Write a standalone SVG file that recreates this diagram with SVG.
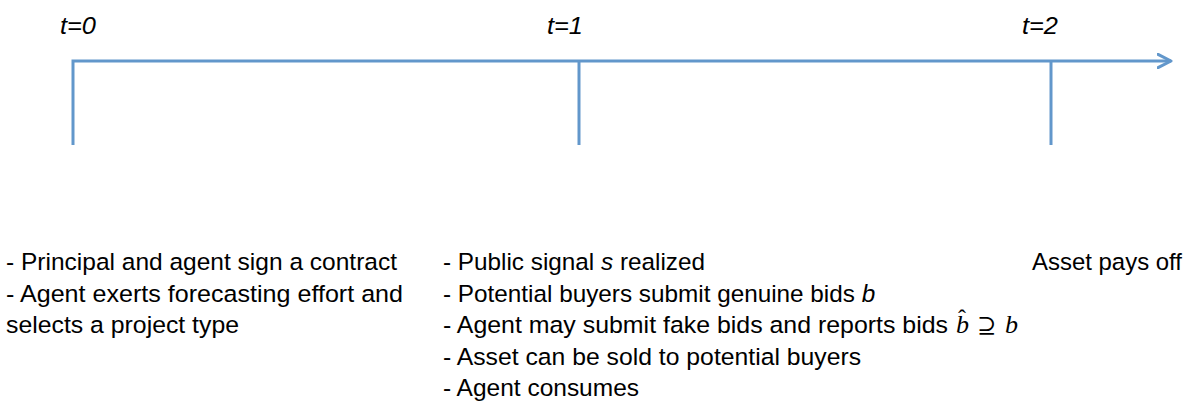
<svg xmlns="http://www.w3.org/2000/svg" width="1188" height="401" viewBox="0 0 1188 401">
<style>
.ax{stroke:#6297cb;stroke-width:3;fill:none}
.lbl{font-family:"Liberation Sans",Arial,sans-serif;font-size:24.5px;font-style:italic;fill:#000}
.tx{font-family:"Liberation Sans",Arial,sans-serif;font-size:24.3px;fill:#000}
.it{font-style:italic}
.m{font-family:"Liberation Serif","DejaVu Serif",serif;font-size:26px;font-style:italic;fill:#000}
.hat{font-style:normal;font-size:24px}
.sym{font-family:"DejaVu Serif","DejaVu Sans",serif;font-size:23px;fill:#000}
</style>
<defs>
<marker id="arr" viewBox="0 0 16 16" refX="14.5" refY="8" markerWidth="16" markerHeight="16" markerUnits="userSpaceOnUse" orient="auto">
<path d="M1.5,1.3 L14.5,8 L1.5,14.7" fill="none" stroke="#6297cb" stroke-width="3" stroke-linecap="round" stroke-linejoin="round"/>
</marker>
</defs>
<rect width="1188" height="401" fill="#fff"/>
<g id="connectors">
<path class="ax" d="M73,145 V61 H1171" marker-end="url(#arr)"/>
<line class="ax" x1="579" y1="61" x2="579" y2="145"/>
<line class="ax" x1="1051" y1="61" x2="1051" y2="145"/>
</g>
<g id="t0"><text class="lbl" x="60" y="34" textLength="36" lengthAdjust="spacingAndGlyphs">t=0</text></g>
<g id="t1"><text class="lbl" x="547" y="34" textLength="36" lengthAdjust="spacingAndGlyphs">t=1</text></g>
<g id="t2"><text class="lbl" x="1022" y="34" textLength="36" lengthAdjust="spacingAndGlyphs">t=2</text></g>
<g id="events-t0">
<text class="tx" x="6" y="270" textLength="391" lengthAdjust="spacingAndGlyphs">- Principal and agent sign a contract</text>
<text class="tx" x="6" y="301.5" textLength="397" lengthAdjust="spacingAndGlyphs">- Agent exerts forecasting effort and</text>
<text class="tx" x="6" y="333" textLength="233" lengthAdjust="spacingAndGlyphs">selects a project type</text>
</g>
<g id="events-t1">
<text class="tx" x="443" y="270">- Public signal <tspan class="it">s</tspan> realized</text>
<text class="tx" x="443" y="301.5">- Potential buyers submit genuine bids <tspan class="it">b</tspan></text>
<text class="tx" x="443" y="333" textLength="505" lengthAdjust="spacingAndGlyphs">- Agent may submit fake bids and reports bids</text>
<text class="m" x="956" y="333">b<tspan class="hat" x="958" y="326">ˆ</tspan></text>
<text class="sym" x="977" y="333">⊇</text>
<text class="m" x="1005" y="333">b</text>
<text class="tx" x="443" y="364.5" textLength="418" lengthAdjust="spacingAndGlyphs">- Asset can be sold to potential buyers</text>
<text class="tx" x="443" y="396" textLength="196" lengthAdjust="spacingAndGlyphs">- Agent consumes</text>
</g>
<g id="events-t2">
<text class="tx" x="1032" y="270" textLength="150" lengthAdjust="spacingAndGlyphs">Asset pays off</text>
</g>
</svg>
